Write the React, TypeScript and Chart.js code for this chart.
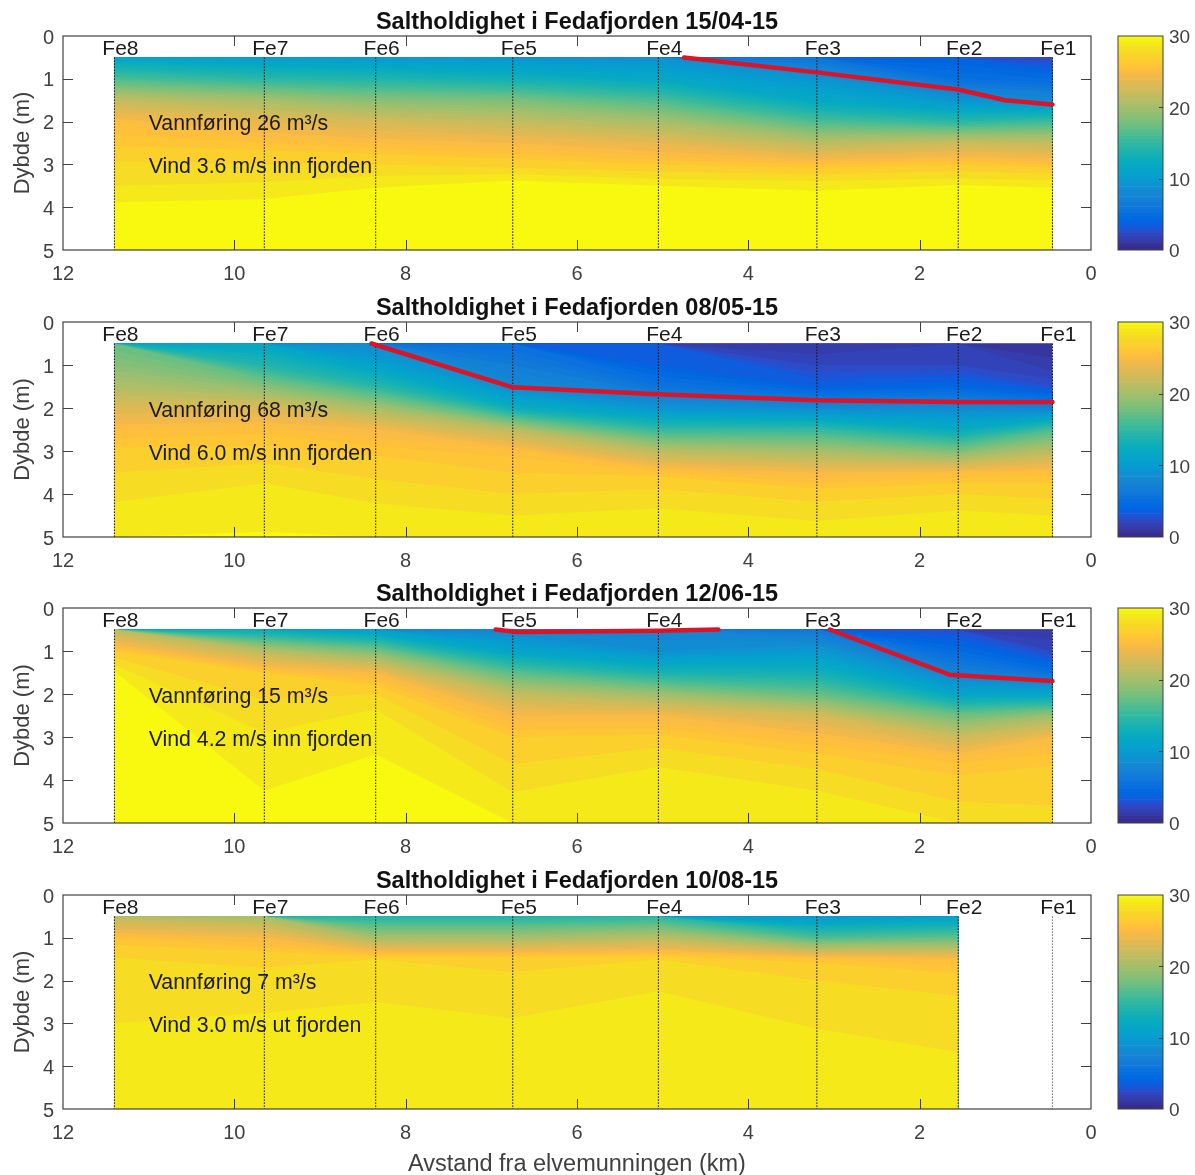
import { useEffect, useRef } from 'react';
import Chart from 'chart.js/auto';

const FONT = '"Liberation Sans", Arial, sans-serif';

// stations along the fjord, km from the river mouth
const stationNames = ['Fe8', 'Fe7', 'Fe6', 'Fe5', 'Fe4', 'Fe3', 'Fe2', 'Fe1'];
const stationKm = [11.4, 9.65, 8.35, 6.75, 5.05, 3.2, 1.55, 0.45];
const depths = [0.5, 1, 1.5, 2, 2.5, 3, 3.5, 4, 4.5, 5];

// salinity per station (rows) and depth (columns)
const salinityApr = [
    [11, 16, 21.5, 25, 25.8, 27.2, 28, 29.3, 29.8, 30],
    [10, 14.5, 20, 23.5, 25.5, 27, 28.2, 29.5, 29.8, 30],
    [9.5, 14, 18.5, 22.5, 25, 27, 28.9, 30, 30, 30],
    [9, 13, 18, 21.5, 24.5, 26.5, 29.8, 30, 30, 30],
    [8.5, 11.5, 16, 20, 23.5, 26, 29, 29.6, 30, 30],
    [5.5, 9, 11.5, 16, 21, 25.5, 28.7, 30, 30, 30],
    [3.5, 5, 9, 14.5, 22, 26, 29.1, 29.8, 30, 30],
    [2, 4.5, 8, 15.5, 21.5, 25.5, 28.9, 30, 30, 30],
];
const salinityMay = [
    [17, 18.5, 20.5, 23, 25, 26.2, 27, 27.7, 28.5, 28.9],
    [11, 14, 18.5, 23, 25.3, 26.2, 27.6, 28.4, 28.7, 29.1],
    [8, 10.5, 14.5, 20, 24.5, 25.8, 26.7, 27.7, 28.4, 28.9],
    [5, 6.5, 8, 12.5, 21, 25.3, 26, 27, 28, 28.7],
    [3, 3.5, 5.5, 9, 15, 21, 25.7, 27.4, 28.3, 28.8],
    [1, 2, 3.5, 8, 15, 20, 24.5, 26.5, 27.9, 28.3],
    [1.5, 2, 4, 8, 12, 18, 25, 27, 28.3, 29],
    [0.8, 1.1, 2.5, 7, 16, 21, 25.3, 26.7, 28, 28.8],
];
const salinityJun = [
    [21, 26, 29.2, 29.6, 29.7, 29.8, 29.9, 30, 30, 30],
    [12, 21, 26, 26.8, 27.6, 28.1, 28.4, 28.8, 29.2, 29.6],
    [10, 18, 24.5, 27, 28.4, 28.6, 29.1, 29.4, 29.6, 29.8],
    [7.5, 11, 16.5, 21.5, 24.5, 26, 26.8, 27.6, 28.3, 29],
    [7.5, 8.5, 13.5, 19.5, 24.5, 26.2, 27.8, 28.3, 28.7, 29],
    [6, 9.5, 13, 17, 22.5, 25, 26.3, 27.7, 28.3, 28.9],
    [2.5, 4.5, 7, 11, 17.5, 22, 25.3, 26.2, 27, 27.9],
    [1, 2, 5, 11, 19.5, 24.5, 25.8, 26.4, 26.9, 27.4],
];
const salinityAug = [
    [21, 25.5, 27.1, 27.4, 27.7, 28, 28.4, 28.6, 28.7, 28.8],
    [20, 24.5, 26.8, 27.3, 27.8, 28.2, 28.4, 28.6, 28.7, 28.8],
    [14, 20, 27, 27.5, 28, 28.4, 28.5, 28.6, 28.7, 28.8],
    [14, 20, 26.7, 27.2, 27.7, 28.1, 28.4, 28.6, 28.7, 28.8],
    [14.5, 21, 27, 27.8, 28.2, 28.4, 28.5, 28.6, 28.7, 28.8],
    [9.5, 16, 25.8, 27, 27.4, 27.9, 28.3, 28.5, 28.7, 28.8],
    [10.5, 17, 25, 26.5, 27.2, 27.5, 27.9, 28.2, 28.5, 28.7],
];

// freshwater layer boundary, [km, depth]
const redApr = [[[4.75, 0.5], [3.2, 0.85], [1.55, 1.25], [1.0, 1.5], [0.45, 1.6]]];
const redMay = [[[8.4, 0.5], [6.75, 1.52], [5.05, 1.68], [3.2, 1.82], [1.55, 1.86], [0.45, 1.86]]];
const redJun = [
    [[6.95, 0.5], [6.7, 0.56], [5.05, 0.53], [4.35, 0.5]],
    [[3.05, 0.5], [1.65, 1.55], [0.45, 1.7]],
];

const parula = [
    [0.2081, 0.1663, 0.5292], [0.2116, 0.1898, 0.5777], [0.2123, 0.2138, 0.627], [0.2081, 0.2386, 0.6771],
    [0.1959, 0.2645, 0.7279], [0.1707, 0.2919, 0.7792], [0.1253, 0.3242, 0.8303], [0.0591, 0.3598, 0.8683],
    [0.0117, 0.3875, 0.882], [0.006, 0.4086, 0.8828], [0.0165, 0.4266, 0.8786], [0.0329, 0.443, 0.872],
    [0.0498, 0.4586, 0.8641], [0.0629, 0.4737, 0.8554], [0.0723, 0.4887, 0.8467], [0.0779, 0.504, 0.8384],
    [0.0793, 0.52, 0.8312], [0.0749, 0.5375, 0.8263], [0.0641, 0.557, 0.824], [0.0488, 0.5772, 0.8228],
    [0.0343, 0.5966, 0.8199], [0.0265, 0.6137, 0.8135], [0.0239, 0.6287, 0.8038], [0.0231, 0.6418, 0.7913],
    [0.0228, 0.6535, 0.7768], [0.0267, 0.6642, 0.7607], [0.0384, 0.6743, 0.7436], [0.059, 0.6838, 0.7254],
    [0.0843, 0.6928, 0.7062], [0.1133, 0.7015, 0.6859], [0.1453, 0.7098, 0.6646], [0.1801, 0.7177, 0.6424],
    [0.2178, 0.725, 0.6193], [0.2586, 0.7317, 0.5954], [0.3022, 0.7376, 0.5712], [0.3482, 0.7424, 0.5473],
    [0.3953, 0.7459, 0.5244], [0.442, 0.7481, 0.5033], [0.4871, 0.7491, 0.484], [0.53, 0.7491, 0.4661],
    [0.5709, 0.7485, 0.4494], [0.6099, 0.7473, 0.4337], [0.6473, 0.7456, 0.4188], [0.6834, 0.7435, 0.4044],
    [0.7184, 0.7411, 0.3905], [0.7525, 0.7384, 0.3768], [0.7858, 0.7356, 0.3633], [0.8185, 0.7327, 0.3498],
    [0.8507, 0.7299, 0.336], [0.8824, 0.7274, 0.3217], [0.9139, 0.7258, 0.3063], [0.945, 0.7261, 0.2886],
    [0.9739, 0.7314, 0.2666], [0.9938, 0.7455, 0.2403], [0.999, 0.7653, 0.2164], [0.9955, 0.7861, 0.1967],
    [0.988, 0.8066, 0.1794], [0.9789, 0.8271, 0.1633], [0.9697, 0.8481, 0.1475], [0.9626, 0.8705, 0.1309],
    [0.9589, 0.8949, 0.1132], [0.9598, 0.9218, 0.0948], [0.9661, 0.9514, 0.0755], [0.9763, 0.9831, 0.0538],
];

const SAL_MAX = 30;
// fine steps where the water changes fast, coarse bands in the deep salty part
const contourLevels = [
    0, 0.5, 1, 1.5, 2, 2.5, 3, 3.5, 4, 4.5, 5, 5.5, 6, 6.5, 7, 7.5, 8, 8.5, 9, 9.5, 10, 10.5, 11, 11.5, 12, 12.5,
    13, 13.5, 14, 14.5, 15, 15.5, 16, 16.5, 17, 17.5, 18, 18.5, 19, 19.5, 20, 20.5, 21, 21.5, 22, 22.5, 23, 23.5,
    24, 24.5, 25, 25.5, 26, 27, 28, 29,
];

function salinityColor(s: number) {
    const t = (Math.max(0, Math.min(SAL_MAX, s)) / SAL_MAX) * (parula.length - 1);
    const i = Math.min(parula.length - 2, Math.floor(t));
    const f = t - i;
    const c = parula[i].map((v, k) => Math.round((v + (parula[i + 1][k] - v) * f) * 255));
    return `rgb(${c[0]},${c[1]},${c[2]})`;
}

// depth where a station profile reaches the given salinity
function isoDepth(profile: number[], level: number) {
    if (profile[0] >= level) return depths[0];
    for (let i = 1; i < profile.length; i++) {
        if (profile[i] >= level) {
            const t = (level - profile[i - 1]) / (profile[i] - profile[i - 1]);
            return depths[i - 1] + t * (depths[i] - depths[i - 1]);
        }
    }
    return depths[depths.length - 1];
}

// every level is painted down to the bottom, saltier ones over the fresher ones
function contourDatasets(grid: number[][]) {
    return contourLevels.map((level, n) => {
        const next = n + 1 < contourLevels.length ? contourLevels[n + 1] : SAL_MAX;
        return {
            data: grid.map((profile, i) => ({ x: stationKm[i], y: isoDepth(profile, level) })),
            showLine: true,
            pointRadius: 0,
            borderWidth: 0,
            backgroundColor: salinityColor(next - 0.1),
            fill: { value: 5 },
            order: -n,
        };
    });
}

interface PanelProps {
    date: string;
    top: number;
    bottom: number;
    grid: number[][];
    red: number[][][];
    flow: string;
    wind: string;
    xTitle?: string;
}

const decorPlugin = (title: string, flow: string, wind: string) => ({
    id: 'decor',
    afterDatasetsDraw(chart: any) {
        const { ctx, chartArea: a, scales } = chart;
        const x = scales.x;
        const y = scales.y;
        ctx.save();
        // ticks point inwards on all four sides
        ctx.strokeStyle = '#404040';
        ctx.lineWidth = 1;
        ctx.beginPath();
        [2, 4, 6, 8, 10].forEach((v) => {
            const px = Math.round(x.getPixelForValue(v)) + 0.5;
            ctx.moveTo(px, a.top);
            ctx.lineTo(px, a.top + 10);
            ctx.moveTo(px, a.bottom);
            ctx.lineTo(px, a.bottom - 10);
        });
        [1, 2, 3, 4].forEach((v) => {
            const py = Math.round(y.getPixelForValue(v)) + 0.5;
            ctx.moveTo(a.left, py);
            ctx.lineTo(a.left + 10, py);
            ctx.moveTo(a.right, py);
            ctx.lineTo(a.right - 10, py);
        });
        ctx.stroke();
        ctx.lineWidth = 1.2;
        ctx.strokeRect(a.left, a.top, a.right - a.left, a.bottom - a.top);

        ctx.fillStyle = '#111';
        ctx.textBaseline = 'middle';
        ctx.textAlign = 'center';
        ctx.font = `bold 23.5px ${FONT}`;
        ctx.fillText(title, (a.left + a.right) / 2, a.top - 13);

        ctx.fillStyle = '#1a1a1a';
        ctx.font = `21px ${FONT}`;
        stationNames.forEach((name, i) => {
            ctx.fillText(name, x.getPixelForValue(stationKm[i] - 0.07), y.getPixelForValue(0.3));
        });
        ctx.textAlign = 'left';
        ctx.font = `21.3px ${FONT}`;
        ctx.fillText(flow, x.getPixelForValue(11), y.getPixelForValue(2) + 3);
        ctx.fillText(wind, x.getPixelForValue(11), y.getPixelForValue(3) + 3);
        ctx.restore();
    },
});

const Panel = ({ date, top, bottom, grid, red, flow, wind, xTitle }: PanelProps) => {
    const ref = useRef<HTMLCanvasElement>(null);
    const xHeight = xTitle ? 66 : 34;

    useEffect(() => {
        if (!ref.current) return;
        const dotted = stationKm.map((km, i) => ({
            data: [{ x: km, y: 0.5 }, { x: km, y: 5 }],
            showLine: true,
            pointRadius: 0,
            borderWidth: 1,
            borderDash: [1.5, 1.5],
            borderColor: i < grid.length ? '#111' : '#666',
            fill: false,
            order: -1000,
        }));
        const redLines = red.map((line) => ({
            data: line.map(([x, y]) => ({ x, y })),
            showLine: true,
            pointRadius: 0,
            borderWidth: 4.5,
            borderColor: '#dc1428',
            borderCapStyle: 'round',
            borderJoinStyle: 'round',
            fill: false,
            order: -1001,
        }));
        const chart = new Chart(ref.current, {
            type: 'scatter',
            data: { datasets: [...contourDatasets(grid), ...dotted, ...redLines] as any },
            options: {
                animation: false,
                responsive: false,
                devicePixelRatio: 1,
                layout: { padding: { top: 36, right: 63, left: 0, bottom: 0 } },
                plugins: {
                    legend: { display: false },
                    tooltip: { enabled: false },
                },
                scales: {
                    x: {
                        type: 'linear',
                        reverse: true,
                        min: 0,
                        max: 12,
                        afterFit: (s: any) => {
                            s.height = xHeight;
                            s.paddingLeft = 0;
                            s.paddingRight = 0;
                        },
                        grid: { display: false, drawTicks: false },
                        border: { display: false },
                        ticks: {
                            stepSize: 2,
                            maxRotation: 0,
                            color: '#404040',
                            padding: 12,
                            font: { family: FONT, size: 20 },
                        },
                        title: {
                            display: !!xTitle,
                            text: xTitle,
                            color: '#404040',
                            font: { family: FONT, size: 23.5, lineHeight: 1.2 },
                            padding: { top: 0, bottom: -4 },
                        },
                    },
                    y: {
                        reverse: true,
                        min: 0,
                        max: 5,
                        afterFit: (s: any) => {
                            s.width = 63;
                            s.paddingTop = 0;
                            s.paddingBottom = 0;
                        },
                        grid: { display: false, drawTicks: false },
                        border: { display: false },
                        ticks: {
                            stepSize: 1,
                            color: '#404040',
                            padding: 9,
                            labelOffset: 2,
                            font: { family: FONT, size: 20 },
                        },
                        title: {
                            display: true,
                            text: 'Dybde (m)',
                            color: '#404040',
                            font: { family: FONT, size: 22, lineHeight: 1.2 },
                            padding: { top: 10, bottom: 0 },
                        },
                    },
                },
            } as any,
            plugins: [decorPlugin(`Saltholdighet i Fedafjorden ${date}`, flow, wind)],
        });
        return () => {
            chart.destroy();
        };
    }, [date, grid, red, flow, wind, xTitle, xHeight]);

    return (
        <canvas
            ref={ref}
            width={1154}
            height={36 + bottom - top + xHeight}
            style={{ position: 'absolute', left: 0, top: top - 36 }}
        />
    );
};

const colorbarBorder = {
    id: 'colorbarBorder',
    afterDatasetsDraw(chart: any) {
        const { ctx, chartArea: a, scales } = chart;
        ctx.save();
        ctx.strokeStyle = '#404040';
        ctx.lineWidth = 1;
        ctx.beginPath();
        [10, 20].forEach((v) => {
            const py = Math.round(scales.y.getPixelForValue(v)) + 0.5;
            ctx.moveTo(a.right, py);
            ctx.lineTo(a.right - 4, py);
        });
        ctx.stroke();
        ctx.strokeRect(a.left, a.top, a.right - a.left, a.bottom - a.top);
        ctx.restore();
    },
};

const Colorbar = ({ top, bottom }: { top: number; bottom: number }) => {
    const ref = useRef<HTMLCanvasElement>(null);

    useEffect(() => {
        if (!ref.current) return;
        const step = SAL_MAX / parula.length;
        const chart = new Chart(ref.current, {
            type: 'bar',
            data: {
                labels: ['S'],
                datasets: parula.map((_, i) => ({
                    data: [step],
                    backgroundColor: salinityColor((i + 0.5) * step),
                    borderWidth: 0,
                    barPercentage: 1,
                    categoryPercentage: 1,
                })),
            },
            options: {
                animation: false,
                responsive: false,
                devicePixelRatio: 1,
                layout: { padding: { top: 12, bottom: 12, left: 8, right: 0 } },
                plugins: { legend: { display: false }, tooltip: { enabled: false } },
                scales: {
                    x: { stacked: true, display: false },
                    y: {
                        stacked: true,
                        position: 'right',
                        min: 0,
                        max: SAL_MAX,
                        afterFit: (s: any) => {
                            s.width = 32;
                            s.paddingTop = 0;
                            s.paddingBottom = 0;
                        },
                        grid: { display: false, drawTicks: false },
                        border: { display: false },
                        ticks: {
                            stepSize: 10,
                            color: '#404040',
                            padding: 6,
                            labelOffset: 2,
                            font: { family: FONT, size: 19 },
                        },
                    },
                },
            } as any,
            plugins: [colorbarBorder],
        });
        return () => {
            chart.destroy();
        };
    }, []);

    return (
        <canvas
            ref={ref}
            width={85}
            height={bottom - top + 24}
            style={{ position: 'absolute', left: 1110, top: top - 12 }}
        />
    );
};

const panels = [
    { date: '15/04-15', top: 36, bottom: 250, grid: salinityApr, red: redApr, flow: 'Vannføring 26 m³/s', wind: 'Vind 3.6 m/s inn fjorden' },
    { date: '08/05-15', top: 322, bottom: 537, grid: salinityMay, red: redMay, flow: 'Vannføring 68 m³/s', wind: 'Vind 6.0 m/s inn fjorden' },
    { date: '12/06-15', top: 608, bottom: 823, grid: salinityJun, red: redJun, flow: 'Vannføring 15 m³/s', wind: 'Vind 4.2 m/s inn fjorden' },
    { date: '10/08-15', top: 895, bottom: 1109, grid: salinityAug, red: [], flow: 'Vannføring 7 m³/s', wind: 'Vind 3.0 m/s ut fjorden', xTitle: 'Avstand fra elvemunningen (km)' },
];

const App = () => (
    <div style={{ position: 'absolute', left: 0, top: 0, width: 1195, height: 1175, background: '#fff' }}>
        {panels.map((p) => (
            <Panel key={p.date} {...p} />
        ))}
        {panels.map((p) => (
            <Colorbar key={p.date} top={p.top} bottom={p.bottom} />
        ))}
    </div>
);

export default App;
